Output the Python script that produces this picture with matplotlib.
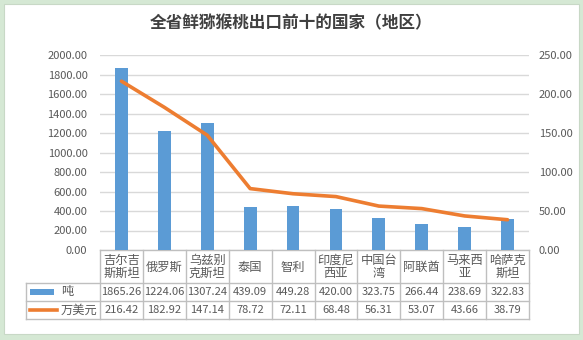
import matplotlib
matplotlib.use("Agg")
import matplotlib.pyplot as plt
from matplotlib.patches import Rectangle
from matplotlib.lines import Line2D

plt.rcParams['font.family'] = ['Noto Sans CJK SC', 'DejaVu Sans']

title = "全省鲜猕猴桃出口前十的国家（地区）"
categories = ["吉尔吉\n斯斯坦", "俄罗斯", "乌兹别\n克斯坦", "泰国", "智利",
              "印度尼\n西亚", "中国台\n湾", "阿联酋", "马来西\n亚", "哈萨克\n斯坦"]
tons = [1865.26, 1224.06, 1307.24, 439.09, 449.28, 420.00, 323.75, 266.44, 238.69, 322.83]
usd10k = [216.42, 182.92, 147.14, 78.72, 72.11, 68.48, 56.31, 53.07, 43.66, 38.79]
series_names = ["吨", "万美元"]
left_ticks = [0, 200, 400, 600, 800, 1000, 1200, 1400, 1600, 1800, 2000]
right_ticks = [0, 50, 100, 150, 200, 250]

W, H = 583, 340
BLUE = "#5B9BD5"
ORANGE = "#ED7D31"
TXT = "#595959"
GRID = "#D9D9D9"
TBL = "#BFBFBF"
NUMFS = 8.0

fig = plt.figure(figsize=(W / 100, H / 100), dpi=100)
fig.patch.set_facecolor("#D5E8D4")

# overlay axes in pixel coords (background panel + table)
bg = fig.add_axes([0, 0, 1, 1], zorder=0)
bg.set_xlim(0, W)
bg.set_ylim(H, 0)
bg.axis("off")
bg.add_patch(Rectangle((4, 4), 575, 330, facecolor="white", edgecolor="#C8D8C6", lw=0.8))

x0, x1, ytop, ybot = 100, 529, 55, 250
ax = fig.add_axes([x0 / W, 1 - ybot / H, (x1 - x0) / W, (ybot - ytop) / H], zorder=2)
ax.patch.set_alpha(0)
n = len(categories)
xs = list(range(n))
ax.bar(xs, tons, width=0.30, color=BLUE, zorder=2)
ax.set_xlim(-0.5, n - 0.5)
ax.set_ylim(0, 2000)
ax.set_yticks(left_ticks)
ax.set_yticklabels([f"{v:.2f}" for v in left_ticks])
ax.set_xticks([])
ax.grid(axis="y", color=GRID, lw=1, zorder=0)
for s in ax.spines.values():
    s.set_visible(False)
ax.tick_params(axis="y", length=0, pad=9, labelsize=NUMFS, labelcolor=TXT)

ax2 = ax.twinx()
ax2.plot(xs, usd10k, color=ORANGE, lw=2.6, solid_capstyle="round", zorder=3)
ax2.set_ylim(0, 250)
ax2.set_yticks(right_ticks)
ax2.set_yticklabels([f"{v:.2f}" for v in right_ticks])
for s in ax2.spines.values():
    s.set_visible(False)
ax2.tick_params(axis="y", length=0, pad=7, labelsize=NUMFS, labelcolor=TXT)

# title
bg.text(291, 23, title, ha="center", va="center", fontsize=12, fontweight="bold", color="#404040")

# table
cw = (x1 - x0) / n
r0, r1, r2, r3 = 250, 283, 301, 319
lx = 26
lines = [
    ((x0, x1), (r0, r0)),
    ((lx, x1), (r1, r1)),
    ((lx, x1), (r2, r2)),
    ((lx, x1), (r3, r3)),
    ((lx, lx), (r1, r3)),
]
for i in range(n + 1):
    xx = x0 + i * cw
    lines.append(((xx, xx), (r0, r3)))
for xsg, ysg in lines:
    bg.add_line(Line2D(xsg, ysg, color=TBL, lw=1))

for i, (c, t, u) in enumerate(zip(categories, tons, usd10k)):
    cx = x0 + (i + 0.5) * cw
    bg.text(cx, (r0 + r1) / 2 + 0.5, c, ha="center", va="center", fontsize=8.8,
            color=TXT, linespacing=1.0)
    bg.text(cx, (r1 + r2) / 2, f"{t:.2f}", ha="center", va="center", fontsize=NUMFS, color=TXT)
    bg.text(cx, (r2 + r3) / 2, f"{u:.2f}", ha="center", va="center", fontsize=NUMFS, color=TXT)

# legend keys
bg.add_patch(Rectangle((30, 289), 24, 6, facecolor=BLUE, edgecolor="none"))
bg.add_line(Line2D((30, 57), (310, 310), color=ORANGE, lw=2.6))
bg.text(61, (r1 + r2) / 2, series_names[0], ha="left", va="center", fontsize=8.8, color=TXT)
bg.text(61, (r2 + r3) / 2, series_names[1], ha="left", va="center", fontsize=8.8, color=TXT)

fig.savefig("out.png", dpi=100, facecolor=fig.get_facecolor())
